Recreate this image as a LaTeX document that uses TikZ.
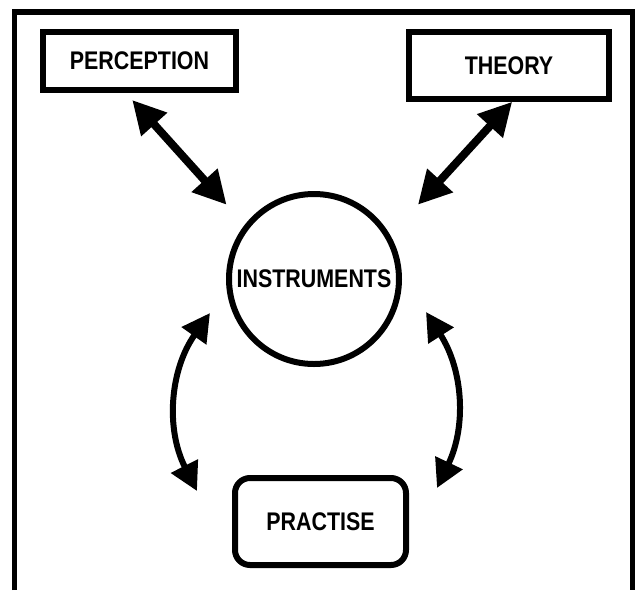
\documentclass[tikz,border=0pt]{standalone}
\usepackage{fontspec}
\setmainfont{Liberation Sans}[FakeStretch=0.84]
\usetikzlibrary{arrows.meta}

\begin{document}
\begin{tikzpicture}[<->,>={Triangle[length=33pt,width=33pt]},x=1pt,y=-1pt,line width=6pt]
	\tikzstyle{every node}=[font=\fontsize{25.5}{30}\selectfont\bfseries,inner sep=0pt]
	\tikzstyle{box}=[draw,rectangle]
	\tikzstyle{arc}=[line width=6pt,>={Triangle[length=28pt,width=29pt]}]
	\useasboundingbox (0,0) rectangle (637,590);
	% frame, open at the bottom
	\draw[-,line width=5.7pt] (14.5,590) -- (14.5,12) -- (632.5,12) -- (632.5,590);
	\node[box,minimum width=193pt,minimum height=58pt]   (P)  at (139.5,61)   {PERCEPTION};
	\node[box,minimum width=200pt,minimum height=66.7pt] (T)  at (509,65.4)   {THEORY};
	\node[draw,circle,minimum size=170pt]                (I)  at (314,279)    {INSTRUMENTS};
	\node[box,rounded corners=15pt,minimum width=171pt,minimum height=87pt] (Pr) at (320.5,521.5) {PRACTISE};
	\path[line width=8pt]
	(P.-113) edge[shorten <=9.4pt,shorten >=27pt] (I.142)
	(T.-85) edge[shorten >=41pt] (I.30);
	\draw[arc] ([shift={(-16,34)}]I.west) to[bend right=31] ([shift={(-35,16)}]Pr.north west);
	\draw[arc] ([shift={(24,33)}]I.east) to[bend left=29] ([shift={(28,13)}]Pr.north east);
\end{tikzpicture}
\end{document}
